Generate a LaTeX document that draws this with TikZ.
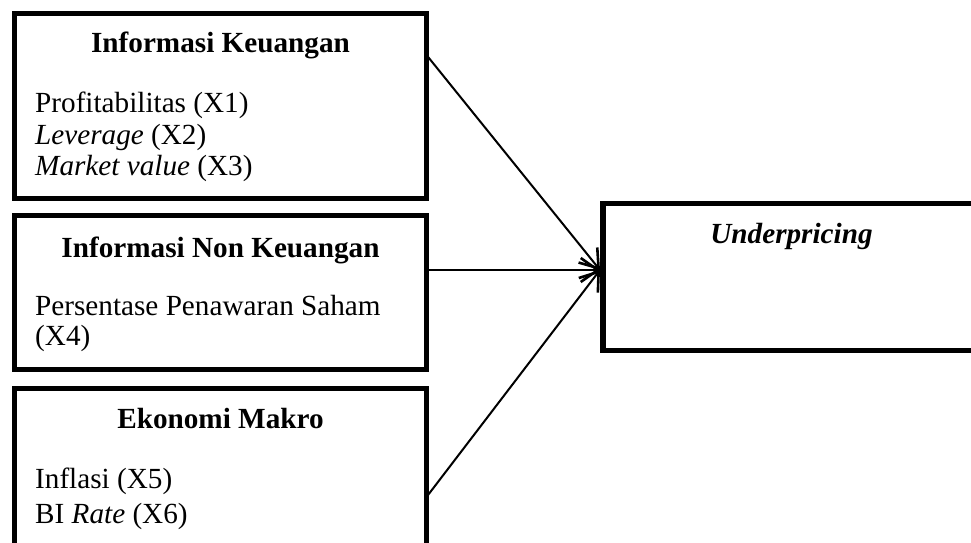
\documentclass[tikz,border=0pt]{standalone}
\usepackage{fontspec}
\setmainfont{Liberation Serif}
\usetikzlibrary{arrows.meta}
\begin{document}
\begin{tikzpicture}[x=1pt,y=1pt,
  box/.style={draw=black,line width=5.2pt,fill=white,inner sep=0pt,outer sep=0pt},
  title/.style={font=\fontsize{29.2}{30}\selectfont\bfseries,anchor=base,inner sep=0pt},
  item/.style={font=\fontsize{29.2}{30}\selectfont,anchor=base west,inner sep=0pt},
  arr/.style={line width=2pt,line cap=round,-{Straight Barb[length=17pt,width=24pt,line width=2.6pt]}}]
\useasboundingbox (0,0) rectangle (971,542);
\fill[white] (0,0) rectangle (971,542);

% source boxes
\node[box,minimum width=412pt,minimum height=185pt] (b1) at (220.5,436) {};
\node[box,minimum width=412pt,minimum height=154pt] (b2) at (220.5,249.5) {};
\node[box,minimum width=412pt,minimum height=159.5pt] (b3) at (220.5,73.75) {};
% target box
\node[box,minimum width=377pt,minimum height=147pt] (b4) at (791.5,265) {};

% box texts
\node[title] (t1) at (220.5,489) {Informasi Keuangan};
\node[item] (i1) at (35,429) {Profitabilitas (X1)};
\node[item] (i2) at (35,398) {\textit{Leverage} (X2)};
\node[item] (i3) at (35,367) {\textit{Market value} (X3)};

\node[title] (t2) at (220.5,285) {Informasi Non Keuangan};
\node[item] (i4) at (35,227) {Persentase Penawaran Saham};
\node[item] (i5) at (35,197) {(X4)};

\node[title] (t3) at (220.5,114) {Ekonomi Makro};
\node[item] (i6) at (35,54) {Inflasi (X5)};
\node[item] (i7) at (35,19) {BI \textit{Rate} (X6)};

\node[title,font=\fontsize{29.2}{30}\selectfont\bfseries\itshape] (t4) at (791.5,299) {Underpricing};

% connectors
\coordinate (tip) at ([xshift=-3pt]b4.west |- 0,272);
\draw[arr] (b1.east |- 0,487) -- (tip);
\draw[arr] (b2.east |- 0,272) -- (tip);
\draw[arr] (b3.east |- 0,45) -- (tip);
\end{tikzpicture}
\end{document}
